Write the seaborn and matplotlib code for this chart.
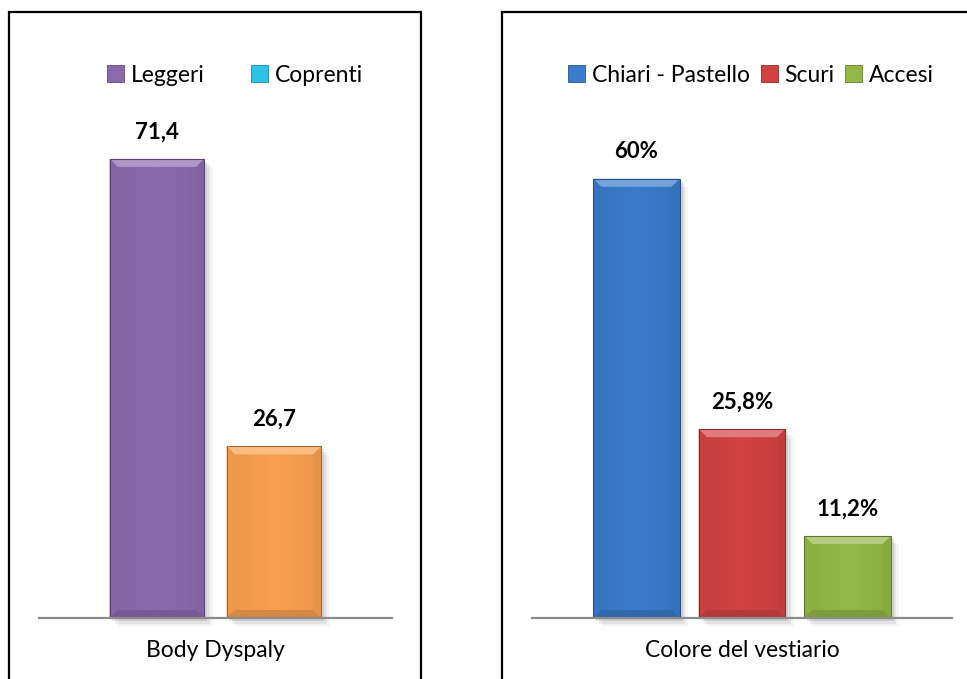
import numpy as np
import pandas as pd
import matplotlib
matplotlib.use("Agg")
import matplotlib.pyplot as plt
import matplotlib.patches as mpatches
from matplotlib.colors import to_rgb
import seaborn as sns

# ---- data ----
body_category = ["Body Dyspaly"]
body_series = ["Leggeri", "Coprenti"]
body_values = [71.4, 26.7]
body_bar_colors = ["#8a6aad", "#f9a04f"]
body_legend_colors = ["#8a6aad", "#2ec3e6"]

colour_category = ["Colore del vestiario"]
colour_series = ["Chiari - Pastello", "Scuri", "Accesi"]
colour_values = [60.0, 25.8, 11.2]
colour_bar_colors = ["#3b7bcb", "#d24242", "#94b848"]

sns.set_theme(style="white")
plt.rcParams["font.family"] = ["Lato", "DejaVu Sans"]

W, H = 967, 679
fig = plt.figure(figsize=(W / 100, H / 100), dpi=100)


def px_axes(x0, x1, ybase, ytop):
    return fig.add_axes([x0 / W, 1 - ybase / H, (x1 - x0) / W, (ybase - ytop) / H])


def shade(c, f):
    r = np.array(to_rgb(c))
    if f >= 0:
        return tuple(r + (1 - r) * f)
    return tuple(r * (1 + f))


def bevel_bars(ax, bars, colors):
    fig.canvas.draw()
    inv = ax.transData.inverted()
    for patch, col in zip(bars, colors):
        x, y = patch.get_x(), patch.get_y()
        w, h = patch.get_width(), patch.get_height()
        # bevel thickness of 8 pixels, in data units
        p0 = inv.transform((0, 0))
        p1 = inv.transform((8, 8))
        bx, by = p1[0] - p0[0], p1[1] - p0[1]
        # soft drop shadow
        for k, a in enumerate([0.10, 0.07, 0.04]):
            sx = bx * 0.35 * (k + 1)
            sy = by * 0.35 * (k + 1)
            ax.add_patch(mpatches.Rectangle((x + sx, y - sy), w, h, color="black",
                                            alpha=a, zorder=1, lw=0, clip_on=False))
        # gentle horizontal gradient inside the bar
        grad = np.linspace(0, 1, 64)
        prof = 1 - 0.06 * np.abs(grad - 0.5) * 2
        base = np.array(to_rgb(col))
        img = np.clip(base[None, None, :] * prof[None, :, None], 0, 1)
        im = ax.imshow(img, extent=(x, x + w, y, y + h), aspect="auto",
                       zorder=patch.get_zorder() + 0.1, interpolation="bicubic")
        im.set_clip_path(patch)
        # top bevel (light), side and bottom bevels (dark)
        top = [(x, y + h), (x + w, y + h), (x + w - bx, y + h - by), (x + bx, y + h - by)]
        left = [(x, y), (x, y + h), (x + bx, y + h - by), (x + bx, y + by)]
        right = [(x + w, y), (x + w, y + h), (x + w - bx, y + h - by), (x + w - bx, y + by)]
        bottom = [(x, y), (x + w, y), (x + w - bx, y + by), (x + bx, y + by)]
        z = patch.get_zorder() + 0.2
        ax.add_patch(mpatches.Polygon(top, color=shade(col, 0.30), lw=0, zorder=z))
        ax.add_patch(mpatches.Polygon(left, color=shade(col, -0.05), lw=0, zorder=z))
        ax.add_patch(mpatches.Polygon(right, color=shade(col, -0.08), lw=0, zorder=z))
        ax.add_patch(mpatches.Polygon(bottom, color=shade(col, -0.15), lw=0, zorder=z))
        ax.add_patch(mpatches.Rectangle((x, y), w, h, fill=False,
                                        ec=shade(col, -0.35), lw=0.8, zorder=z + 0.1))


def fmt(v, pct):
    s = f"{v:.1f}"
    if pct and s.endswith(".0"):
        s = s[:-2]
    s = s.replace(".", ",")
    return s + ("%" if pct else "")


def panel(ax, category, series, values, bar_colors, legend_colors, ymax,
          width, gap, pct, legend_x, legend_cols_spacing):
    df = pd.DataFrame({"cat": category * len(series), "serie": series, "val": values})
    sns.barplot(data=df, x="cat", y="val", hue="serie", hue_order=series,
                palette=bar_colors, width=width, gap=gap, saturation=1,
                legend=False, ax=ax, zorder=2)
    ax.set_ylim(0, ymax)
    ax.set_xlim(-0.5, 0.5)
    ax.set_ylabel("")
    ax.set_xlabel("")
    ax.set_yticks([])
    for s in ["left", "right", "top"]:
        ax.spines[s].set_visible(False)
    ax.spines["bottom"].set_color("#8c8c8c")
    ax.spines["bottom"].set_linewidth(1.6)
    ax.spines["bottom"].set_zorder(5)
    ax.tick_params(axis="x", length=0, pad=16, labelsize=16.5, labelcolor="black")
    ax.set_facecolor("none")
    bars = [c[0] for c in ax.containers]
    bevel_bars(ax, bars, bar_colors)
    for bar, v in zip(bars, values):
        ax.annotate(fmt(v, pct), (bar.get_x() + bar.get_width() / 2, v),
                    xytext=(0, 12), textcoords="offset points", ha="center",
                    va="bottom", fontsize=16, fontweight="bold", color="black")
    handles = [mpatches.Patch(facecolor=c, edgecolor=shade(c, -0.3), lw=0.6)
               for c in legend_colors]
    leg = ax.legend(handles, series, loc="center", bbox_to_anchor=(legend_x, 1 - 75 / H),
                    bbox_transform=fig.transFigure, ncol=len(series), frameon=False,
                    fontsize=16.5, handlelength=0.75, handleheight=0.75,
                    handletextpad=0.3, columnspacing=legend_cols_spacing,
                    borderaxespad=0)
    for t in leg.get_texts():
        t.set_color("black")


ax1 = px_axes(39, 392, 618, 618 - 80 * 6.43)
panel(ax1, body_category, body_series, body_values, body_bar_colors,
      body_legend_colors, 80, 0.663, 0.19, False, 235 / W, 2.0)

ax2 = px_axes(532, 952, 618, 618 - 70 * 7.32)
panel(ax2, colour_category, colour_series, colour_values, colour_bar_colors,
      colour_bar_colors, 70, 0.754, 0.18, True, 751 / W, 0.45)

# chart frames
fig.add_artist(mpatches.Rectangle((9 / W, -0.05), (421 - 9) / W, 1.05 - 12 / H,
                                  transform=fig.transFigure, fill=False,
                                  ec="black", lw=1.6))
fig.add_artist(mpatches.Rectangle((502 / W, -0.05), 0.5, 1.05 - 12 / H,
                                  transform=fig.transFigure, fill=False,
                                  ec="black", lw=1.6))

fig.savefig("out.png", dpi=100, facecolor="white")
